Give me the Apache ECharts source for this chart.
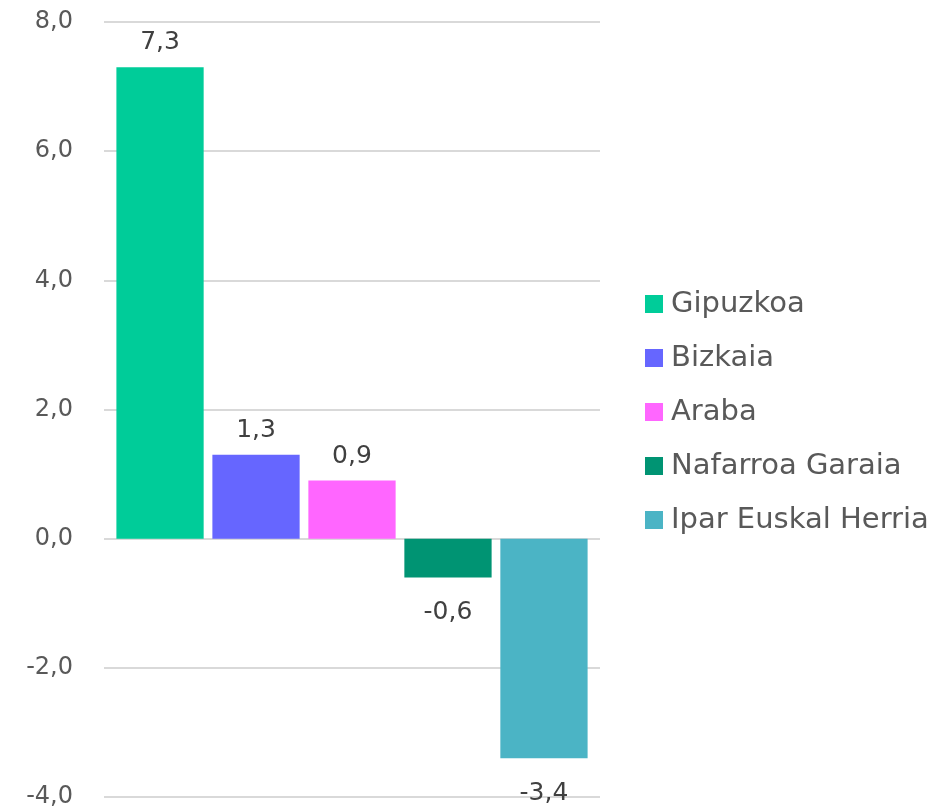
<!DOCTYPE html>
<html>
<head>
<meta charset="utf-8">
<script src="https://cdn.jsdelivr.net/npm/echarts@6/dist/echarts.min.js"></script>
<style>
html,body{margin:0;padding:0;background:#fff;}
#chart{width:938px;height:812px;}
</style>
</head>
<body>
<div id="chart"></div>
<script>
var names = ['Gipuzkoa', 'Bizkaia', 'Araba', 'Nafarroa Garaia', 'Ipar Euskal Herria'];
var values = [7.3, 1.3, 0.9, -0.6, -3.4];
var colors = ['#00cc99', '#6666ff', '#ff66ff', '#009473', '#4bb4c5'];
var yTicks = { min: -4, max: 8, interval: 2 };

function fmt(v){
	return v.toFixed(1).replace('.', ',');
}

var myChart = echarts.init(document.getElementById('chart'));
var series = [];
for (var i = 0; i < names.length; i++) {
	series.push({
		name: names[i],
		type: 'bar',
		barGap: '10%',
		barCategoryGap: '5%',
		itemStyle: { color: colors[i] },
		label: {
			show: true,
			position: values[i] < 0 ? 'bottom' : 'top',
			distance: values[i] < 0 ? 23 : 12,
			color: '#404040',
			fontSize: 25,
			fontFamily: 'DejaVu Sans',
			formatter: function(p){ return fmt(p.value); }
		},
		data: [values[i]]
	});
}

var option = {
	animation: false,
	grid: { left: 104, right: 338, top: 22, bottom: 15 },
	legend: {
		orient: 'vertical',
		left: 640,
		top: 284,
		icon: 'rect',
		itemWidth: 18,
		itemHeight: 18,
		itemGap: 24,
		textStyle: { color: '#595959', fontSize: 29, fontFamily: 'DejaVu Sans', lineHeight: 30, padding: [0, 0, 0, 3] },
		data: names
	},
	xAxis: {
		type: 'category',
		data: [''],
		axisLine: { show: false },
		axisTick: { show: false },
		axisLabel: { show: false }
	},
	yAxis: {
		type: 'value',
		min: yTicks.min,
		max: yTicks.max,
		interval: yTicks.interval,
		axisLine: { show: false },
		axisTick: { show: false },
		splitLine: { lineStyle: { color: '#d9d9d9', width: 2 } },
		axisLabel: {
			color: '#595959',
			fontSize: 24,
			fontFamily: 'DejaVu Sans',
			margin: 31,
			formatter: function(v){ return fmt(v); }
		}
	},
	series: series
};
myChart.setOption(option);
window.onresize = myChart.resize;
</script>
</body>
</html>
